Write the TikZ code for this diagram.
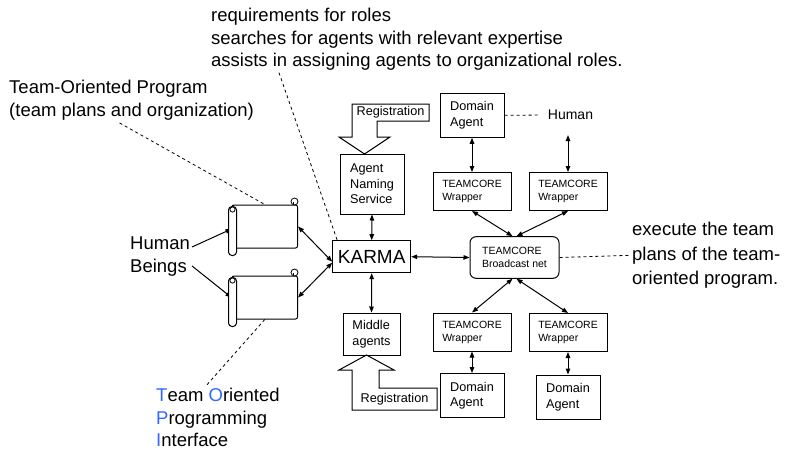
\documentclass[tikz,border=0pt]{standalone}
\usepackage{fontspec}
\setmainfont{Liberation Sans}
\usetikzlibrary{arrows.meta,calc}
\pgfdeclarelayer{bg}
\pgfsetlayers{bg,main}
\definecolor{topiblue}{RGB}{51,102,255}
\tikzset{
    every node/.style={inner sep=2pt},
    big/.style={font=\fontsize{18.5}{23}\selectfont, align=left},
    medium/.style={font=\fontsize{12.7}{15.5}\selectfont, align=left},
    small/.style={font=\fontsize{10.5}{13}\selectfont, align=left},
    box/.style={draw, rectangle, line width=1pt},
    dom/.style={minimum width=64pt, minimum height=44pt},
    wrap/.style={minimum width=78pt, minimum height=38pt},
    scroll/.style={draw, rectangle, line width=1pt, rounded corners=2pt, minimum width=65.5pt, minimum height=43pt},
    link/.style={line width=1pt, >={Triangle[length=6pt, width=4.5pt]}},
    note/.style={line width=0.8pt, dash pattern=on 3pt off 3pt}
}

\begin{document}
\begin{tikzpicture}[x=1pt, y=-1pt]
    \useasboundingbox (0,0) rectangle (789,450);

    \node (req) [big, font=\fontsize{18.5}{22.5}\selectfont, anchor=north west] at (209, 6) {requirements for roles\\searches for agents with relevant expertise\\assists in assigning agents to organizational roles.};
    \node (top) [big, font=\fontsize{18.5}{23.3}\selectfont, anchor=north west] at (7, 78) {Team-Oriented Program\\(team plans and organization)};
    \node (hb) [big, anchor=north west] at (128, 235) {Human\\Beings};
    \node (tpi) [big, font=\fontsize{18.5}{22.5}\selectfont, anchor=north west] at (154, 386) {\textcolor{topiblue}{T}eam \textcolor{topiblue}{O}riented\\\textcolor{topiblue}{P}rogramming\\\textcolor{topiblue}{I}nterface};
    \node (exe) [big, font=\fontsize{18.5}{24.5}\selectfont, anchor=north west] at (630, 220) {execute the team\\plans of the team-\\oriented program.};

    \node (p1) [scroll] at (264.75, 226.5) {};
    \node (p2) [scroll] at (264.75, 297.5) {};
    \foreach \s in {p1, p2} {
        \draw [line width=1pt, fill=white, rounded corners=3.5pt] ($(\s.north west)+(-3,2)$) rectangle ($(\s.south west)+(5,7)$);
        \draw [line width=0.8pt, fill=white] ($(\s.north west)+(1,5)$) circle [radius=2.6pt];
        \draw [line width=0.8pt, fill=white] ($(\s.north east)+(-3.5,-3)$) circle [radius=3.5pt];
        \draw [line width=0.6pt] ($(\s.north east)+(-5,-2.5)$) -- ($(\s.north east)+(-5,0)$);
    }

    \node (ans) [box, medium, minimum width=64pt, minimum height=60pt] at (372, 184) {Agent\\Naming\\Service};
    \node (karma) [box, font=\fontsize{19}{22}\selectfont, minimum width=78pt, minimum height=32pt] at (371.7, 256.7) {KARMA};
    \node (mid) [box, medium, minimum width=57pt, minimum height=42pt] at (371.5, 334) {Middle\\agents};

    \node (d1) [box, medium, dom] at (472, 115.3) {Domain\\Agent};
    \node (hum) [font=\fontsize{14}{16}\selectfont] at (570.5, 115) {Human};
    \node (w1) [box, small, wrap] at (472, 191.5) {TEAMCORE\\Wrapper};
    \node (w2) [box, small, wrap] at (568, 191.5) {TEAMCORE\\Wrapper};
    \node (bc) [box, small, rounded corners=6pt, minimum width=89pt, minimum height=41.6pt] at (514.5, 257.5) {TEAMCORE\\Broadcast net};
    \node (w3) [box, small, wrap] at (472, 332) {TEAMCORE\\Wrapper};
    \node (w4) [box, small, wrap] at (568, 332.5) {TEAMCORE\\Wrapper};
    \node (d2) [box, medium, dom] at (472, 395.5) {Domain\\Agent};
    \node (d3) [box, medium, dom] at (568, 397) {Domain\\Agent};

    % registration arrows
    \draw [line width=1pt] (352,104) -- (429,104) -- (429,121) -- (377,121) -- (377,137) -- (390,137) -- (364.5,154) -- (339,137) -- (352,137) -- cycle;
    \node (reg1) [medium] at (390.5, 112.5) {Registration};
    \draw [line width=1pt] (366.5,355) -- (394,370) -- (379,370) -- (379,388) -- (437,388) -- (437,410) -- (352,410) -- (352,370) -- (339,370) -- cycle;
    \node (reg2) [medium] at (394.5, 399) {Registration};

    \begin{pgfonlayer}{bg}
        \draw [link, ->] ([yshift=10pt]hb.east) -- ([yshift=-2.5pt]p1.west);
        \draw [link, ->] ([yshift=-9pt]hb.east) -- (p2.west);
        \draw [link, <->] (p1.east) -- ([yshift=-5pt]karma.west);
        \draw [link, <->] (p2.east) -- ([yshift=-6pt]karma.west);
        \draw [link, <->] (ans.south) -- (karma.north);
        \draw [link, <->] (karma.south) -- (mid.north);
        \draw [link, <->] (karma.east) -- (bc.west);
        \draw [link, <->] (d1.south) -- (w1.north);
        \draw [link, <->, shorten <=13pt] (w2.north |- hum.south) -- (w2.north);
        \draw [link, <->] (w1.south) -- ([xshift=-2pt]bc.north);
        \draw [link, <->] (w2.south) -- ([xshift=2pt]bc.north);
        \draw [link, <->] (w3.north) -- ([xshift=-2pt]bc.south);
        \draw [link, <->] (w4.north) -- ([xshift=2pt]bc.south);
        \draw [link, <->] (w3.south) -- (d2.north);
        \draw [link, <->] (w4.south) -- (d3.north);

        \draw [note] ([xshift=-12pt]top.south) -- (p1.north);
        \draw [note] ([xshift=70pt]req.south west) -- ([xshift=5pt]karma.north west);
        \draw [note] (p2.south) -- ([xshift=-12pt]tpi.north);
        \draw [note] (bc.east) -- (exe.west);
        \draw [note, shorten >=8pt] (d1.east) -- (hum.west);
    \end{pgfonlayer}
\end{tikzpicture}
\end{document}
